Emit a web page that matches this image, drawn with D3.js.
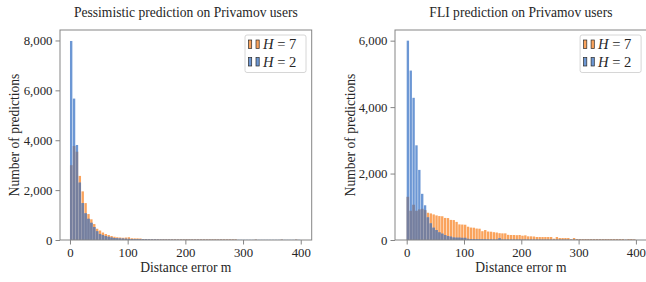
<!DOCTYPE html>
<html><head><meta charset="utf-8">
<script src="https://cdn.jsdelivr.net/npm/d3@7"></script>
<style>
html,body{margin:0;padding:0;background:#fff;}
svg text{font-family:"Liberation Serif",serif;fill:#262626;}
</style></head>
<body>
<svg id="chart" width="646" height="282"></svg>
<script>
// ---------- DATA (5 m bins from 0 to 400 m) ----------
const binWidth = 5;
const binStarts = d3.range(0, 400, binWidth);

// Pessimistic prediction, H = 7
const pessH7 = [3000,3770,3540,2570,1950,1480,1040,830,640,450,
  380,300,240,200,160,130,110,100,90,100,
  110,70,65,65,60,40,35,30,32,30,
  30,28,30,30,28,30,30,28,30,30,
  32,30,30,28,30,30,30,28,30,30,
  30,28,30,30,28,30,30,28,0,0,
  0,0,0,0,15,0,0,0,0,0,
  0,0,0,15,0,0,0,0,15,0];
// Pessimistic prediction, H = 2
const pessH2 = [7980,5670,3810,2300,1480,1070,850,690,520,350,
  240,200,160,130,100,80,70,60,55,50,
  45,35,30,30,28,25,25,22,20,20,
  18,15,15,14,14,13,13,12,12,12,
  12,12,11,11,11,10,10,10,10,10,
  10,10,10,9,9,9,9,9,9,9,
  8,8,8,8,8,8,8,8,8,8,
  8,8,8,8,8,8,8,8,8,8];
// FLI prediction, H = 7
const fliH7 = [1300,880,1060,880,920,940,900,820,800,770,
  740,720,715,665,660,605,600,545,470,465,
  460,400,375,370,345,340,265,300,255,250,
  235,225,205,200,200,155,150,150,145,150,
  130,140,110,110,105,90,90,90,90,90,
  90,40,90,60,60,60,60,20,60,30,
  30,30,30,30,30,30,30,30,30,30,
  30,30,30,30,30,30,10,30,30,20];
// FLI prediction, H = 2
const fliH2 = [6000,5100,4280,2850,2110,1390,1045,680,500,370,
  300,230,190,150,120,100,75,70,70,65,
  65,35,25,25,22,20,20,18,15,15,
  12,12,50,10,10,10,10,10,10,10,
  10,10,9,9,9,9,9,8,8,8,
  8,8,8,8,8,8,8,8,8,8,
  7,7,7,7,7,7,7,7,7,7,
  6,6,6,6,6,6,6,6,6,6];

const xTicks = [0,100,200,300,400];
const yTicksPess = [0,2000,4000,6000,8000];
const yTicksFli = [0,2000,4000,6000];
const titles = ["Pessimistic prediction on Privamov users","FLI prediction on Privamov users"];
const legendLabels = ["7","2"];
const xLabel = "Distance error m";
const yLabel = "Number of predictions";

// ---------- STYLE ----------
const cOrange = "rgb(250,163,92)";
const cBlue = "rgb(108,151,212)";
const cOverlap = "rgb(118,127,158)";
const frameColor = "#858585";
const FONT = "Liberation Serif";

const svg = d3.select("#chart");

// fit font size so the left title is about as wide as in the reference
const probe = svg.append("text").attr("font-family", FONT).attr("font-size", 12).text(titles[0]);
const w12 = probe.node().getComputedTextLength();
probe.remove();
const fs = Math.min(14, Math.max(11.5, 12 * 224 / w12));
const tickFs = 12.8;

const panels = [
  {left:60, right:311.7, xdom:[-17.3,419], ymax:8420, h7:pessH7, h2:pessH2, yt:yTicksPess, title:titles[0], yLabX:14},
  {left:395, right:646.8, xdom:[-20.4,419], ymax:6321, h7:fliH7, h2:fliH2, yt:yTicksFli, title:titles[1], yLabX:350}
];
const plotTop = 30, plotBottom = 240;

panels.forEach(p => {
  const g = svg.append("g");
  const x = d3.scaleLinear().domain(p.xdom).range([p.left, p.right]);
  const y = d3.scaleLinear().domain([0, p.ymax]).range([plotBottom, plotTop]);
  const bins = binStarts.map((s,i) => ({x0:s, x1:s+binWidth, o:p.h7[i], b:p.h2[i]}));
  const gap = 0.5;
  const drawBars = (acc, color) => {
    g.append("g").selectAll("rect").data(bins).join("rect")
      .attr("x", d => x(d.x0))
      .attr("width", d => Math.max(0, x(d.x1) - x(d.x0) - gap))
      .attr("y", d => y(acc(d)))
      .attr("height", d => y(0) - y(acc(d)))
      .attr("fill", color);
  };
  drawBars(d => d.o, cOrange);
  drawBars(d => d.b, cBlue);
  drawBars(d => Math.min(d.o, d.b), cOverlap);

  // frame
  g.append("rect").attr("x", p.left).attr("y", plotTop)
    .attr("width", p.right - p.left).attr("height", plotBottom - plotTop)
    .attr("fill","none").attr("stroke", frameColor).attr("stroke-width",1);

  // axes
  const xa = g.append("g").attr("transform", `translate(0,${plotBottom})`)
    .call(d3.axisBottom(x).tickValues(xTicks).tickSize(4.5).tickPadding(3).tickFormat(d3.format("d")));
  const ya = g.append("g").attr("transform", `translate(${p.left},0)`)
    .call(d3.axisLeft(y).tickValues(p.yt).tickSize(4.5).tickPadding(3).tickFormat(d3.format(",")));
  [xa, ya].forEach(a => {
    a.attr("font-family", FONT);
    a.select(".domain").remove();
    a.selectAll(".tick line").attr("stroke", frameColor).attr("stroke-width",1);
    a.selectAll(".tick text").attr("font-size", tickFs).attr("font-family", FONT).attr("fill","#262626");
  });

  // title
  g.append("text").attr("x", (p.left + p.right)/2).attr("y", 17)
    .attr("text-anchor","middle").attr("font-family", FONT).attr("font-size", fs).text(p.title);
  // x label
  g.append("text").attr("x", (p.left + p.right)/2).attr("y", 272)
    .attr("text-anchor","middle").attr("font-family", FONT).attr("font-size", fs).text(xLabel);
  // y label
  g.append("text").attr("transform", `translate(${p.yLabX},${(plotTop+plotBottom)/2}) rotate(-90)`)
    .attr("text-anchor","middle").attr("dy","0.35em").attr("font-family", FONT).attr("font-size", fs).text(yLabel);

  // legend
  const lw = 61, lh = 37.5;
  const lx = p.right - 5.7 - lw, ly = 35;
  const lg = g.append("g");
  lg.append("rect").attr("x", lx).attr("y", ly).attr("width", lw).attr("height", lh)
    .attr("rx", 2).attr("fill","#fff").attr("fill-opacity",0.85).attr("stroke","#cccccc").attr("stroke-width",0.8);
  [[cOrange, legendLabels[0]],[cBlue, legendLabels[1]]].forEach((e,i) => {
    const cy = ly + 9 + i*17.5;
    [0, 7.5].forEach(dx => {
      lg.append("rect").attr("x", lx + 3.5 + dx).attr("y", cy - 4)
        .attr("width", 3.2).attr("height", 8.5)
        .attr("fill", e[0]).attr("stroke","#2a2a2a").attr("stroke-width",0.7);
    });
    const t = lg.append("text").attr("x", lx + 18).attr("y", cy).attr("dy","0.35em")
      .attr("font-family", FONT).attr("font-size", fs + 1);
    t.append("tspan").attr("font-style","italic").text("H");
    t.append("tspan").text(" = " + e[1]);
  });
});
</script>
</body></html>
